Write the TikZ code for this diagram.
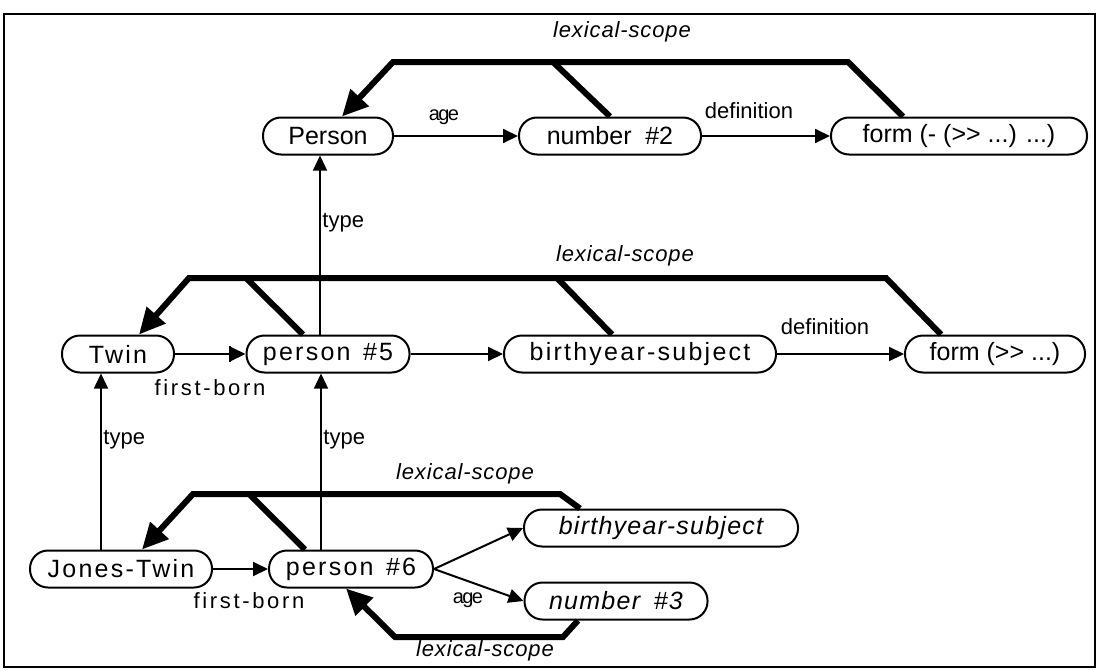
\documentclass[tikz,border=0pt]{standalone}
\usepackage{fontspec}
\setmainfont{Liberation Sans}
\usetikzlibrary{arrows.meta}

\begin{document}
\begin{tikzpicture}[x = 0.5pt, y = -0.5pt,
                        box/.style = {draw, line width = 1pt, rounded corners = 9pt, minimum height = 18.5pt,
                                      inner sep = 0pt, font = \fontsize{12.5}{14}\selectfont},
                        wide/.style = {font = \fontsize{12.5}{14}\selectfont\addfontfeature{LetterSpace = 9}},
                        slot/.style = {font = \fontsize{12.5}{14}\selectfont\itshape\addfontfeature{LetterSpace = 5}},
                        lbl/.style = {inner sep = 0pt, font = \fontsize{11}{12}\selectfont},
                        lexlbl/.style = {inner sep = 0pt, font = \fontsize{11}{12}\selectfont\itshape\addfontfeature{LetterSpace = 4}},
                        agelbl/.style = {inner sep = 0pt, font = \fontsize{10}{12}\selectfont\addfontfeature{LetterSpace = -8}},
                        rel/.style = {line width = 1pt, -{Triangle[length = 7.5pt, width = 7pt]}},
                        isa/.style = {line width = 0.7pt, -{Triangle[length = 7.5pt, width = 7pt]}},
                        lex/.style = {line width = 3pt, line join = miter},
                        lexarrow/.style = {lex, -{Triangle[length = 13pt, width = 12pt]}}]
      \useasboundingbox (0, 0) rectangle (1097, 669);
      \draw [line width = 0.8pt] (4, 14) rectangle (1095, 667);

      % nodes
      \node [box, minimum width = 65pt] (person) at (328, 136){Person};
      \node [box, minimum width = 91pt] (number2) at (610, 136){number\hspace{0.55em}\#2};
      \node [box, minimum width = 128pt] (form1) at (959, 136){form (- (>{}> ...) ...)};

      \node [box, wide, minimum width = 56pt] (twin) at (118, 354){Twin};
      \node [box, wide, minimum width = 81.5pt] (person5) at (328, 354){person\hspace{0.5em}\#5};
      \node [box, wide, minimum width = 136pt] (birth5) at (640, 354){birthyear-subject};
      \node [box, minimum width = 90pt] (form2) at (995, 354){form (>{}> ...)};

      \node [box, wide, minimum width = 91pt] (jones) at (121, 569){Jones-Twin};
      \node [box, wide, minimum width = 82pt] (person6) at (351, 569){person\hspace{0.5em}\#6};
      \node [box, slot, minimum width = 137pt] (birth6) at (661, 528){birthyear-subject};
      \node [box, slot, minimum width = 91.5pt] (number3) at (616, 601){number\hspace{0.55em}\#3};

      % slots
      \draw [rel] (person) -- (number2);
      \draw [rel] (number2) -- (form1);
      \draw [line width = 1pt, -{Bar[width = 8pt, line width = 0.6pt] Triangle[length = 7.5pt, width = 7pt]}] (twin) -- (person5);
      \draw [rel] (person5) -- (birth5);
      \draw [rel] (birth5) -- (form2);
      \draw [rel] (jones) -- (person6);
      \draw [rel] (person6.east) -- (birth6.west);
      \draw [rel] (person6.east) -- (number3.west);

      % types
      \draw [isa] ([xshift = -4pt]person5.north) -- ([xshift = -4pt]person.south);
      \draw [isa] ([xshift = -10pt]jones.north) -- ([xshift = -8.5pt]twin.south);
      \draw [isa] ([xshift = -15pt]person6.north) -- ([xshift = -3.5pt]person5.south);

      % lexical scopes
      \coordinate (s1) at (553, 62);
      \coordinate (s2) at (246, 278);
      \coordinate (s3) at (557, 278);
      \coordinate (s4) at (249, 494);

      \draw [lexarrow] ([xshift = -28pt]form1.north) -- (848, 62) -- (393, 62) -- ([xshift = 7pt]person.north);
      \draw [lex] (s1) -- (number2.north);

      \draw [lexarrow] ([xshift = -27pt]form2.north) -- (886, 278) -- (189, 278) -- ([xshift = 10.5pt]twin.north);
      \draw [lex] (s2) -- ([xshift = -12.5pt]person5.north);
      \draw [lex] (s3) -- ([xshift = -14pt]birth5.north);

      \draw [lexarrow] ([xshift = -40.5pt]birth6.north) -- (560, 494) -- (193, 494) -- ([xshift = 10.5pt]jones.north);
      \draw [lex] (s4) -- ([xshift = -23pt]person6.north);

      \draw [lexarrow] ([xshift = -19pt]number3.south) -- (563, 637) -- (395, 637) -- ([xshift = -2.5pt]person6.south);

      % labels
      \node [lexlbl] (lex1) at (622, 32){lexical-scope};
      \node [agelbl] (age1) at (444, 117){age};
      \node [lbl] (def1) at (749, 111){definition};
      \node [lbl, anchor = west] (type1) at (322, 223){type};

      \node [lexlbl] (lex2) at (625, 256){lexical-scope};
      \node [lbl] (def2) at (825, 327){definition};
      \node [lbl, font = \fontsize{11}{12}\selectfont\addfontfeature{LetterSpace = 12}] (born1) at (210, 388){first-born};
      \node [lbl, anchor = west] (type2) at (103, 440){type};
      \node [lbl, anchor = west] (type3) at (323, 440){type};

      \node [lexlbl] (lex3) at (465, 474){lexical-scope};
      \node [lbl, font = \fontsize{11}{12}\selectfont\addfontfeature{LetterSpace = 12}] (born2) at (249, 601){first-born};
      \node [agelbl] (age2) at (468, 600){age};
      \node [lexlbl] (lex4) at (485, 651){lexical-scope};
      \end{tikzpicture}
\end{document}
